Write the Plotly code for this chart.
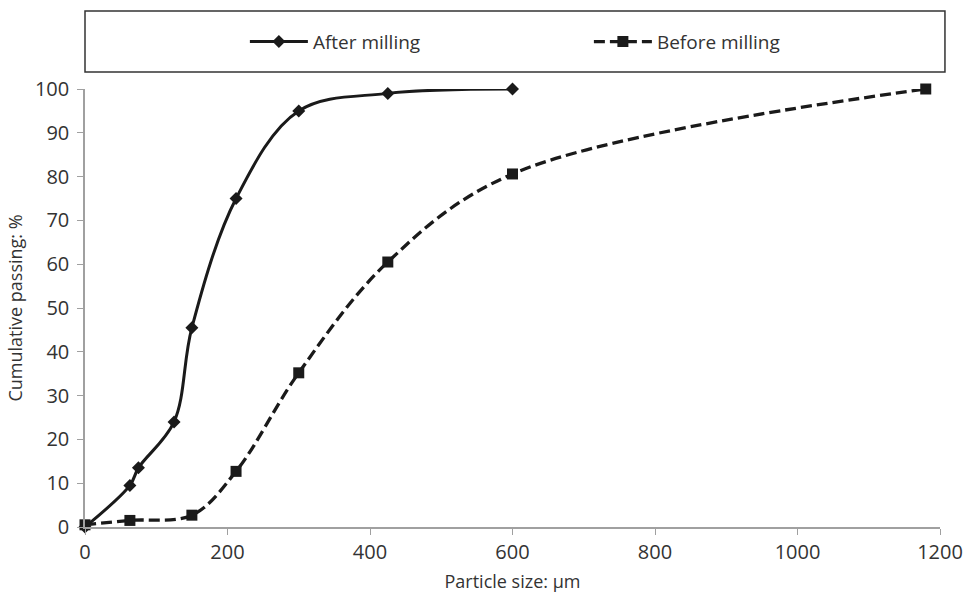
import plotly.graph_objects as go

after_x = [0, 63, 75, 125, 150, 212, 300, 425, 600]
after_y = [0, 9.5, 13.5, 24, 45.5, 75, 95, 99, 100]
before_x = [0, 63, 150, 212, 300, 425, 600, 1180]
before_y = [0.5, 1.5, 2.7, 12.7, 35.2, 60.5, 80.6, 100]

x_ticks = [0, 200, 400, 600, 800, 1000, 1200]
y_ticks = [0, 10, 20, 30, 40, 50, 60, 70, 80, 90, 100]

ink = "#1a1a1a"
fig = go.Figure()
fig.add_trace(go.Scatter(
    x=after_x, y=after_y, name="After milling", mode="lines+markers",
    line=dict(color=ink, width=3, shape="spline", smoothing=1),
    marker=dict(symbol="diamond", size=10, color=ink), cliponaxis=False))
fig.add_trace(go.Scatter(
    x=before_x, y=before_y, name="Before milling", mode="lines+markers",
    line=dict(color=ink, width=3.3, dash="11px,5px", shape="spline", smoothing=1),
    marker=dict(symbol="square", size=11, color=ink), cliponaxis=False))

axis_col = "#a0a0a0"
fig.update_layout(
    width=967, height=600,
    margin=dict(l=85, r=27, t=89, b=73),
    plot_bgcolor="white", paper_bgcolor="white",
    font=dict(family="Open Sans", size=19, color="#333333"),
    showlegend=True,
    legend=dict(orientation="h", x=0.187, xanchor="left", y=1.108, yanchor="middle",
                font=dict(size=19, color="#333333"), entrywidth=271, entrywidthmode="pixels",
                itemwidth=58, bgcolor="rgba(0,0,0,0)"),
    xaxis=dict(range=[0, 1200], tickvals=x_ticks, showgrid=False, zeroline=False,
               showline=True, linecolor=axis_col, linewidth=1.5, ticks="outside",
               ticklen=6, tickcolor=axis_col, tickfont=dict(size=20), automargin=False,
               title=dict(text="Particle size: µm", font=dict(size=18), standoff=12)),
    yaxis=dict(range=[0, 100], tickvals=y_ticks, showgrid=False, zeroline=False,
               showline=True, linecolor=axis_col, linewidth=1.5, ticks="outside",
               ticklen=6, tickcolor=axis_col, ticklabelstandoff=4, tickfont=dict(size=20),
               automargin=False,
               title=dict(text="Cumulative passing: %", font=dict(size=18), standoff=8)),
    shapes=[dict(type="rect", xref="paper", yref="paper", x0=0, x1=1.0058,
                 y0=1.039, y1=1.178, line=dict(color="#333333", width=1.5))],
)
fig.write_html("out.html")
